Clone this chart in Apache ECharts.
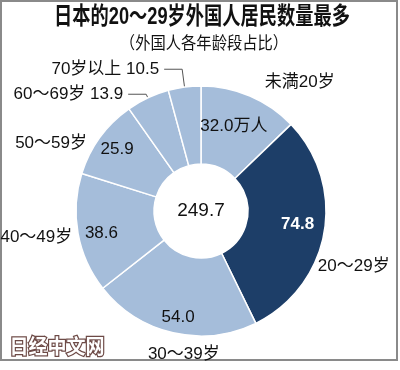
<!DOCTYPE html>
<html>
<head>
<meta charset="utf-8">
<script src="https://cdn.jsdelivr.net/npm/echarts@6/dist/echarts.min.js"></script>
<style>
html,body{margin:0;padding:0;background:#fff;}
#c{width:400px;height:370px;}
</style>
</head>
<body>
<div id="c"></div>
<script>
const categories = ['未満20岁', '20～29岁', '30～39岁', '40～49岁', '50～59岁', '60～69岁', '70岁以上'];
const values = [32.0, 74.8, 54.0, 38.6, 25.9, 13.9, 10.5];
const totalLabel = '249.7';
const titleText = '日本的20～29岁外国人居民数量最多';
const subtitleText = '（外国人各年龄段占比）';
const watermarkText = '日经中文网';

const LIGHT = '#a5bdda';
const DARK = '#1d3e68';
const FONT = '"Liberation Sans", "Noto Sans CJK SC", sans-serif';

// label nudges (style only)
const valueNudge = [[-2, -3], [9, -2], [-3, 20], [-12, 6], [-12, -9], [0, 0], [0, 0]];
const nameNudge = [[-4, 0], [-34, 31], [63, 7], [22, 1], [12, 15], [0, 0], [0, 0]];

const chart = echarts.init(document.getElementById('c'), null, {renderer: 'canvas'});

const valueData = categories.map((name, i) => {
  const d = {
    name: name,
    value: values[i],
    itemStyle: {color: i === 1 ? DARK : LIGHT},
    label: {
      position: 'inside',
      formatter: p => p.value.toFixed(1) + (i === 0 ? '万人' : ''),
      color: i === 1 ? '#fff' : '#111',
      fontWeight: i === 1 ? 'bold' : 'normal'
    }
  };
  if (i >= 5) {
    d.label = {position: 'outside', formatter: p => p.name + ' ' + p.value.toFixed(1), color: '#111'};
    d.labelLine = {show: true, length: i === 6 ? 18 : 4, length2: 18, lineStyle: {color: '#555', width: 1}};
  }
  return d;
});

const nameData = categories.map((name, i) => ({
  name: name,
  value: values[i],
  label: {show: i < 5}
}));

const option = {
  backgroundColor: '#fff',
  animation: false,
  graphic: [
    {type: 'rect', shape: {x: 1, y: 1, width: 396, height: 359}, style: {fill: 'none', stroke: '#8a8a8a', lineWidth: 2}, z: 0},
    {type: 'text', x: 202, y: 17, scaleX: 0.76, style: {text: titleText, font: 'bold 24px ' + FONT, fill: '#111', align: 'center', verticalAlign: 'middle'}},
    {type: 'text', x: 204, y: 44, scaleX: 0.9, style: {text: subtitleText, font: '17px ' + FONT, fill: '#111', align: 'center', verticalAlign: 'middle'}},
    {type: 'text', x: 57, y: 346, scaleX: 0.95, style: {text: watermarkText, font: 'bold 20px "Noto Sans CJK SC", sans-serif', fill: '#fff', stroke: '#6d4a46', lineWidth: 2.5, align: 'center', verticalAlign: 'middle'}}
  ],
  series: [
    {
      type: 'pie',
      center: [201, 211],
      radius: [47, 125],
      startAngle: 90,
      clockwise: true,
      avoidLabelOverlap: false,
      silent: true,
      itemStyle: {borderColor: '#fff', borderWidth: 1.5},
      label: {fontFamily: FONT, fontSize: 17, color: '#111'},
      labelLine: {show: false},
      labelLayout: p => ({dx: valueNudge[p.dataIndex][0], dy: valueNudge[p.dataIndex][1]}),
      data: valueData
    },
    {
      type: 'pie',
      center: [201, 211],
      radius: [47, 125],
      startAngle: 90,
      clockwise: true,
      avoidLabelOverlap: false,
      silent: true,
      itemStyle: {color: 'rgba(0,0,0,0)', borderWidth: 0},
      label: {position: 'outside', formatter: '{b}', fontFamily: FONT, fontSize: 17, color: '#111'},
      labelLine: {show: false, length: 15, length2: 8},
      labelLayout: p => ({dx: nameNudge[p.dataIndex][0], dy: nameNudge[p.dataIndex][1]}),
      data: nameData
    },
    {
      type: 'pie',
      center: [201, 211],
      radius: [0, 46],
      silent: true,
      itemStyle: {color: 'rgba(0,0,0,0)'},
      label: {position: 'center', formatter: totalLabel, fontFamily: FONT, fontSize: 19, color: '#111'},
      labelLine: {show: false},
      data: [{name: 'total', value: 1}]
    }
  ]
};
chart.setOption(option);
</script>
</body>
</html>
